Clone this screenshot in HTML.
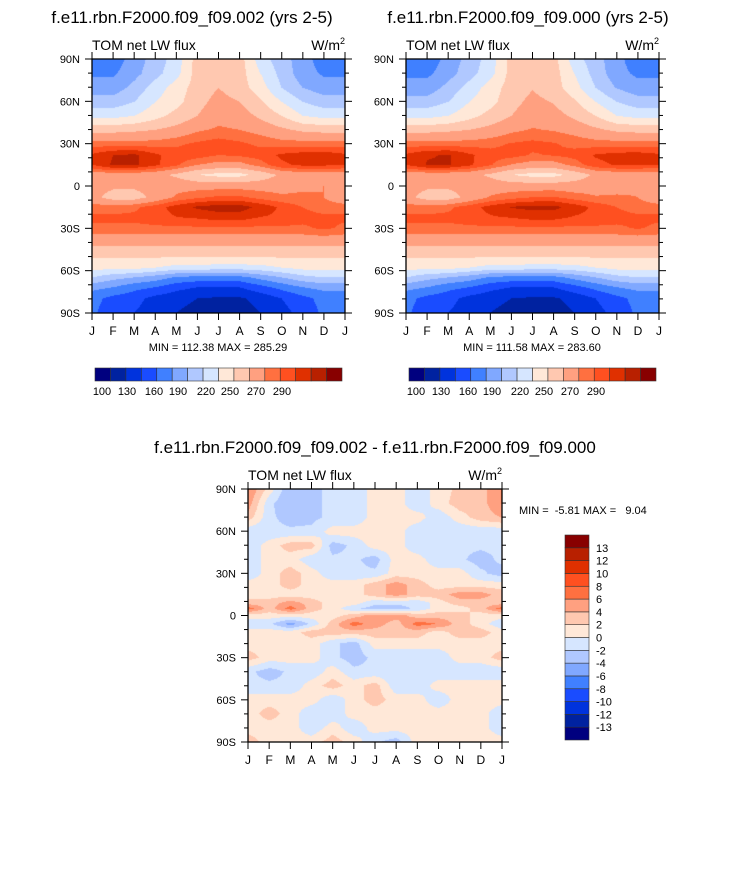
<!DOCTYPE html>
<html><head><meta charset="utf-8">
<style>
body{margin:0;background:#fff;width:733px;height:869px;position:relative;overflow:hidden;font-family:"Liberation Sans",sans-serif;}
canvas{position:absolute;}
svg{position:absolute;left:0;top:0;}
</style></head>
<body>
<canvas id="c1" width="253" height="254" style="left:92px;top:59px"></canvas>
<canvas id="c2" width="253" height="254" style="left:406px;top:59px"></canvas>
<canvas id="c3" width="254" height="253" style="left:248px;top:489px"></canvas>
<svg id="ov" width="733" height="869"></svg>
<script>
const palette=["#00007f","#0022a0","#0033dd","#1a4cff","#4080ff","#80a8ff","#b0c8ff","#d6e6ff","#ffe8d8","#ffc8b0","#ffa080","#ff7040","#ff5020","#e03000","#b82000","#880000"];
const months=["J","F","M","A","M","J","J","A","S","O","N","D","J"];
const topLevels=[100,115,130,145,160,175,190,205,220,235,250,260,270,280,290];
const topLabels=["100","130","160","190","220","250","270","290"];
const diffLevels=[-13,-12,-10,-8,-6,-4,-2,0,2,4,6,8,10,12,13];
const diffLabels=["13","12","10","8","6","4","2","0","-2","-4","-6","-8","-10","-12","-13"];
const latTop=[90,80,70,60,50,40,30,22,15,8,0,-8,-15,-22,-30,-40,-50,-58,-65,-72,-80,-90];
const fieldA=[
[152,152,167,182,197,227,227,227,197,182,167,152,152],
[158,158,170,185,200,227,230,227,205,185,167,158,158],
[167,167,180,197,212,227,235,227,212,190,175,167,167],
[182,182,190,205,215,230,240,235,222,205,190,182,182],
[200,200,205,215,225,235,245,242,232,220,205,200,200],
[230,230,232,235,240,248,252,250,245,238,232,230,230],
[255,255,255,255,258,262,265,262,258,255,255,255,255],
[272,280,282,272,265,265,260,262,265,272,275,276,272],
[270,282,282,272,262,250,245,245,255,268,272,272,270],
[242,242,242,240,232,220,215,215,225,238,242,242,242],
[242,238,238,242,245,245,245,245,245,245,248,250,242],
[240,228,228,240,252,258,262,262,256,252,252,250,240],
[255,255,258,265,275,282,285,285,277,268,260,255,255],
[262,262,262,265,270,272,275,275,270,268,264,262,262],
[258,258,258,258,258,258,258,258,258,258,258,262,258],
[240,240,240,240,240,240,240,240,240,240,240,240,240],
[222,222,222,222,222,222,222,222,222,222,222,222,222],
[210,210,210,205,200,200,198,198,200,205,210,210,210],
[190,180,175,168,158,155,155,155,165,175,185,190,190],
[165,160,150,145,135,130,130,130,140,150,160,165,165],
[150,140,135,125,120,115,113,113,120,130,140,150,150],
[148,135,130,122,115,110,108,108,115,125,135,148,148]];
const fieldB=[
[150,150,166,181,197,226,227,226,197,181,166,150,150],
[157,157,169,184,200,226,230,227,205,184,166,157,157],
[166,166,180,196,212,227,234,227,211,190,174,166,166],
[182,182,190,205,215,230,239,234,222,205,190,182,182],
[200,200,205,215,225,235,244,241,232,220,205,200,200],
[230,230,232,235,240,247,251,249,245,238,232,230,230],
[255,255,255,255,257,261,263,261,257,255,255,255,255],
[272,279,281,272,264,264,259,261,264,271,274,275,272],
[270,281,281,272,261,249,244,244,254,267,271,271,270],
[242,241,241,240,232,220,215,215,225,238,241,241,242],
[242,238,238,241,244,243,243,243,243,244,247,249,242],
[240,228,228,240,251,256,260,261,255,251,251,250,240],
[255,255,258,265,274,281,283,283,276,267,260,255,255],
[262,262,262,265,269,271,274,274,269,267,264,262,262],
[258,258,258,258,258,258,258,258,258,258,258,261,258],
[240,240,240,240,240,240,240,240,240,240,240,240,240],
[222,222,222,222,222,222,222,222,222,222,222,222,222],
[210,210,210,205,200,200,198,198,200,205,210,210,210],
[190,180,175,168,158,155,155,155,165,175,185,190,190],
[165,160,150,145,135,130,130,130,140,150,160,165,165],
[150,140,135,125,120,115,113,113,120,130,140,150,150],
[148,135,130,122,115,110,108,108,115,125,135,148,148]];
const latDiff=[90,80,70,60,50,40,30,22,15,9,5,0,-6,-12,-20,-30,-40,-50,-60,-70,-80,-90];
const fieldD=[
[6,1,-4,-2.5,-1.5,-1.5,1,1,-1.5,1,2.5,3,6],
[5,-1.5,-4,-2.5,-1.5,-1.5,1,1,-1.5,1,3,3,6],
[3,-1.5,-3,-2.5,-1.5,-1.5,1,1,1,-1.5,1,3,4],
[-1.5,-1.5,-1.5,-1.5,1,1,1,1,-1.5,-1.5,-1.5,-1.5,-1.5],
[-1.5,1,3,3,-3,-1.5,1,1,-1.5,-1.5,-1.5,-1.5,-1.5],
[-1.5,1,1,-1.5,-1.5,-1.5,-3,1,1,-1.5,-1.5,-3,-1.5],
[-1.5,1,3,1,-1.5,-1.5,-1.5,1,1,1,1,-1.5,-3],
[1,1,3,1,1,1,3,5,3,1,1,1,1],
[1,1,1,1,1,1,3,5,3,3,5,5,3],
[3,3,5,3,1,1,-1.5,-1.5,-1.5,1,3,3,3],
[7,3,7,3,1,-1.5,-3,-3,-1.5,1,1,3,7],
[1,1,1,1,1,3,5,5,3,3,3,1,1],
[-1.5,-1.5,-5,-1.5,3,7,5,3,7,6,3,1,-1.5],
[1,1,1,3,3,3,3,3,3,1,3,3,1],
[1,1,1,1,-1.5,-3,1,1,1,1,1,1,1],
[3,1,1,1,-1.5,-3,-1.5,-1.5,-1.5,-1.5,1,1,3],
[-1.5,-3,-1.5,-1.5,1,-1.5,-1.5,-1.5,-1.5,-1.5,-1.5,-1.5,-1.5],
[-1.5,-1.5,-1.5,1,3,1,3,-1.5,-1.5,1,1,1,1],
[1,1,1,1,-1.5,1,3,1,1,-1.5,1,1,1],
[1,3,1,-1.5,-1.5,1,1,1,1,1,1,1,-1.5],
[1,1,1,-1.5,1,-1.5,1,1,1,1,1,1,-1.5],
[3,1,1,1,3,1,-1.5,-3,1,1,1,1,1]];

function hex(h){return [parseInt(h.slice(1,3),16),parseInt(h.slice(3,5),16),parseInt(h.slice(5,7),16)];}
const pal=palette.map(hex);
function sample(field,lats,m,lat){
  let i=0;while(i<lats.length-2&&lat<lats[i+1])i++;
  const t=(lats[i]-lat)/(lats[i]-lats[i+1]);
  let j=Math.min(Math.floor(m),11);const s=m-j;
  const a=field[i][j]*(1-s)+field[i][j+1]*s;
  const b=field[i+1][j]*(1-s)+field[i+1][j+1]*s;
  return a*(1-t)+b*t;
}
function draw(id,field,lats,levels){
  const c=document.getElementById(id),ctx=c.getContext('2d');
  const W=c.width,H=c.height,img=ctx.createImageData(W,H);
  for(let y=0;y<H;y++)for(let x=0;x<W;x++){
    const m=x/(W-1)*12, lat=90-y/(H-1)*180;
    const v=sample(field,lats,m,lat);
    let k=0;while(k<levels.length&&v>=levels[k])k++;
    const col=pal[k],p=(y*W+x)*4;
    img.data[p]=col[0];img.data[p+1]=col[1];img.data[p+2]=col[2];img.data[p+3]=255;
  }
  ctx.putImageData(img,0,0);
}
draw('c1',fieldA,latTop,topLevels);
draw('c2',fieldB,latTop,topLevels);
draw('c3',fieldD,latDiff,diffLevels);

const NS="http://www.w3.org/2000/svg",ov=document.getElementById('ov');
function el(tag,attrs,txt){const e=document.createElementNS(NS,tag);for(const k in attrs)e.setAttribute(k,attrs[k]);if(txt!==undefined)e.textContent=txt;ov.appendChild(e);return e;}
function txt(x,y,s,size,anchor,name){const t=el('text',{x:x,y:y,'font-size':size,'text-anchor':anchor||'start','font-family':'Liberation Sans, sans-serif',fill:'#000','xml:space':'preserve'},s);
t.style.whiteSpace='pre';

return t;}
function panel(x0,y0,w,h,title,tx,ty,pname){
  txt(tx,ty,title,17,'middle',pname+'-title');
  txt(x0,y0-9,'TOM net LW flux',14,'start',pname+'-variable-label');
  const u=txt(x0+w,y0-9,'W/m',14,'end',pname+'-units');
  const sup=document.createElementNS(NS,'tspan');sup.setAttribute('font-size','9');sup.setAttribute('dy','-6');sup.textContent='2';u.appendChild(sup);
  const r=el('rect',{x:x0,y:y0,width:w,height:h,fill:'none',stroke:'#000','stroke-width':1.3});
  
  
  const yl=['90N','60N','30N','0','30S','60S','90S'];
  for(let lat=90;lat>=-90;lat-=10){
    const y=y0+(90-lat)/180*h,maj=lat%30===0,L=maj?7:4;
    el('line',{x1:x0-L,y1:y,x2:x0,y2:y,stroke:'#000'});
    el('line',{x1:x0+w,y1:y,x2:x0+w+L,y2:y,stroke:'#000'});
    if(maj){txt(x0-12,y+4,yl[(90-lat)/30],11,'end',pname+'-y-tick-label');}
  }
  for(let m=0;m<=12;m++){
    const x=x0+m/12*w;
    el('line',{x1:x,y1:y0-7,x2:x,y2:y0,stroke:'#000'});
    el('line',{x1:x,y1:y0+h,x2:x,y2:y0+h+7,stroke:'#000'});
    txt(x,y0+h+22,months[m],12,'middle',pname+'-x-tick-label');
  }
}
panel(92,59,253,254,'f.e11.rbn.F2000.f09_f09.002 (yrs 2-5)',192,23,'left-panel');
panel(406,59,253,254,'f.e11.rbn.F2000.f09_f09.000 (yrs 2-5)',528,23,'right-panel');
panel(248,489,254,253,'f.e11.rbn.F2000.f09_f09.002 - f.e11.rbn.F2000.f09_f09.000',375,453,'diff-panel');
txt(218,351,'MIN = 112.38 MAX = 285.29',11,'middle','left-min-max');
txt(532,351,'MIN = 111.58 MAX = 283.60',11,'middle','right-min-max');
txt(519,514,'MIN =  -5.81 MAX =   9.04',11,'start','diff-min-max');

function hbar(x0,y0,w,h,name){
  const bw=w/16;
  for(let k=0;k<16;k++){
    const r=el('rect',{x:x0+k*bw,y:y0,width:bw,height:h,fill:palette[k],stroke:'#333','stroke-width':0.6});
    
    
  }
  const offs=[7,32,59,83,111,135,161,187];
  topLabels.forEach((l,i)=>txt(x0+offs[i],y0+h+14,l,11,'middle',name+'-label'));
}
hbar(95,368,247,13,'left-colorbar');
hbar(409,368,247,13,'right-colorbar');
const vb=205/16;
for(let k=0;k<16;k++){
  const r=el('rect',{x:565,y:535+(15-k)*vb,width:24,height:vb,fill:palette[k],stroke:'#333','stroke-width':0.6});
  
  
}
diffLabels.forEach((l,i)=>txt(596,535+(i+1)*vb+4,l,11,'start','diff-colorbar-label'));
</script>
</body></html>
